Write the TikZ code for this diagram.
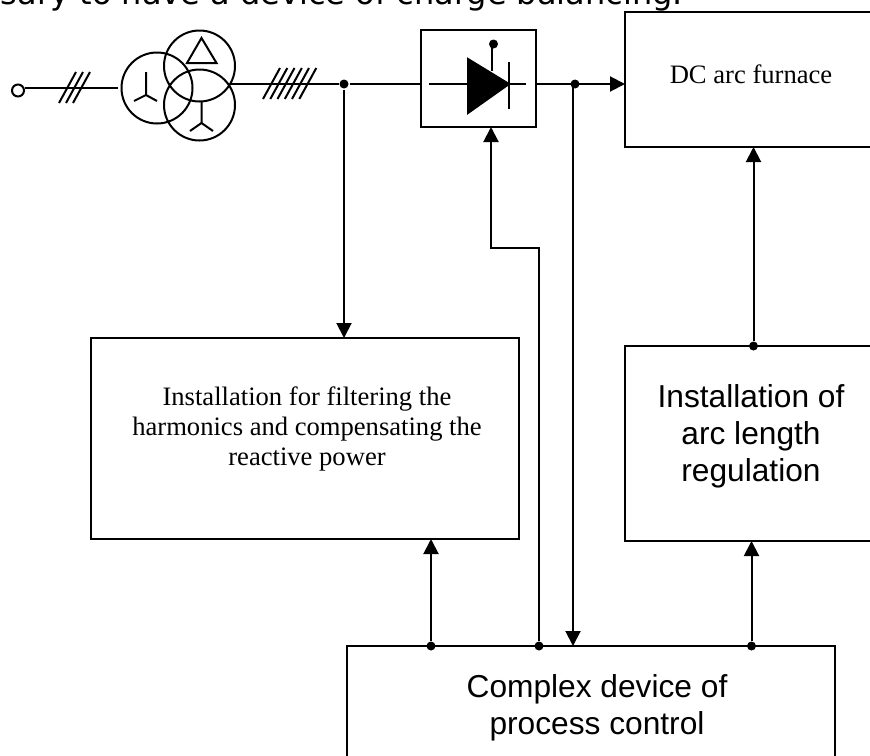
\documentclass[tikz,border=0pt]{standalone}
\usepackage{fontspec}
\setmainfont{Liberation Serif}
\setsansfont{Liberation Sans}
\newfontfamily\topfont{DejaVu Sans}
\usetikzlibrary{positioning,arrows.meta}

\begin{document}
\begin{tikzpicture}[x=1pt, y=-1pt, line width=2pt,
        block/.style={draw, rectangle, outer sep=0pt, align=center},
        winding/.style={draw, circle, minimum size=71pt, inner sep=0pt},
        dot/.style={circle, fill, inner sep=0pt, minimum size=9pt},
        serif/.style={font=\fontsize{26.6}{30}\selectfont},
        sans/.style={font=\sffamily\fontsize{31.7}{37}\selectfont},
        >={Triangle[length=15pt,width=15pt]}
    ]
        \path[use as bounding box, clip] (0,0) rectangle (870,755);

        \node [anchor=base west, inner sep=0pt, font=\topfont\fontsize{32}{36}\selectfont] (title) at (0,4) {sary to have a device of charge balancing.};

        % boxes
        \node [block, minimum width=115pt, minimum height=97pt] (rect) at (478.5,78.5) {};
        \node [block, right=89pt of rect, minimum width=252pt, minimum height=135pt, yshift=-1pt, serif, text depth=10pt] (furnace) {DC arc furnace};
        \node [block, below=199pt of furnace, minimum width=252pt, minimum height=195pt, sans, text depth=20pt] (arc) {Installation of\\arc length\\regulation};
        \node [block, left=106pt of arc, minimum width=428pt, minimum height=201pt, yshift=5pt, label={[serif, align=center, xshift=2pt, yshift=10pt]center:Installation for filtering the\\harmonics and compensating the\\reactive power}] (filter) {};
        \node [block, minimum width=488pt, minimum height=124pt, label={[sans, align=center, xshift=6pt]center:Complex device of\\process control}] (control) at (591,708) {};

        % transformer
        \node [winding] (wye) at (157,88) {};
        \node [winding] (delta) at (199.5,66) {};
        \node [winding] (wyeout) at (199.5,105) {};
        \draw (146,72) -- (146,95) -- (134,101) (146,95) -- (157,101);
        \draw (201.5,38) -- (187,63) -- (216.5,63) -- cycle;
        \draw (201.5,102) -- (201.5,123) -- (190,131) (201.5,123) -- (213,131);

        % input and bus
        \node [draw, circle, inner sep=0pt, minimum size=12pt] (input) at (18,90.5) {};
        \coordinate (coilin) at (118,88);
        \coordinate (coilout) at (231,84);
        \node [dot] (busdot) at (344,84) {};
        \draw (input.east |- coilin) -- (coilin);
        \draw (59,103) -- (76,72) (66,103) -- (83,72) (73,103) -- (90,72);
        \draw (coilout) -- (busdot);
        \draw (263,99) -- (280,68) (270.3,99) -- (287.3,68) (277.5,99) -- (294.5,68)
            (284.8,99) -- (301.8,68) (292,99) -- (309,68) (299.3,99) -- (316.3,68);
        \draw (busdot) -- (busdot -| rect.west);
        \draw [->] (busdot) -- (busdot |- filter.north);

        % rectifier symbol
        \draw (429,84) -- (526,84);
        \draw [fill] (468,59) -- (468,113) -- (509,84) -- cycle;
        \draw (509,62) -- (509,109);
        \node [dot] (gate) at (493.5,44) {};
        \draw (492,71) -- (492,44);

        % output and control lines
        \node [dot] (outdot) at (575,84) {};
        \draw [->] (rect.east |- outdot) -- (outdot -| furnace.west);
        \draw [->] (573,84) -- (573,646);

        \node [dot] (arcdot) at (753.5,346) {};
        \draw [->] (arcdot) -- (arcdot |- furnace.south);

        \node [dot] (filterdot) at (431,646) {};
        \node [dot] (rectdot) at (539,646) {};
        \node [dot] (regdot) at (751.5,646) {};
        \draw [->] (filterdot) -- (filterdot |- filter.south);
        \draw [->] (regdot) -- (regdot |- arc.south);
        \draw [->] (rectdot) -- (539,248) -- (491,248) -- (491,127);
    \end{tikzpicture}
\end{document}
